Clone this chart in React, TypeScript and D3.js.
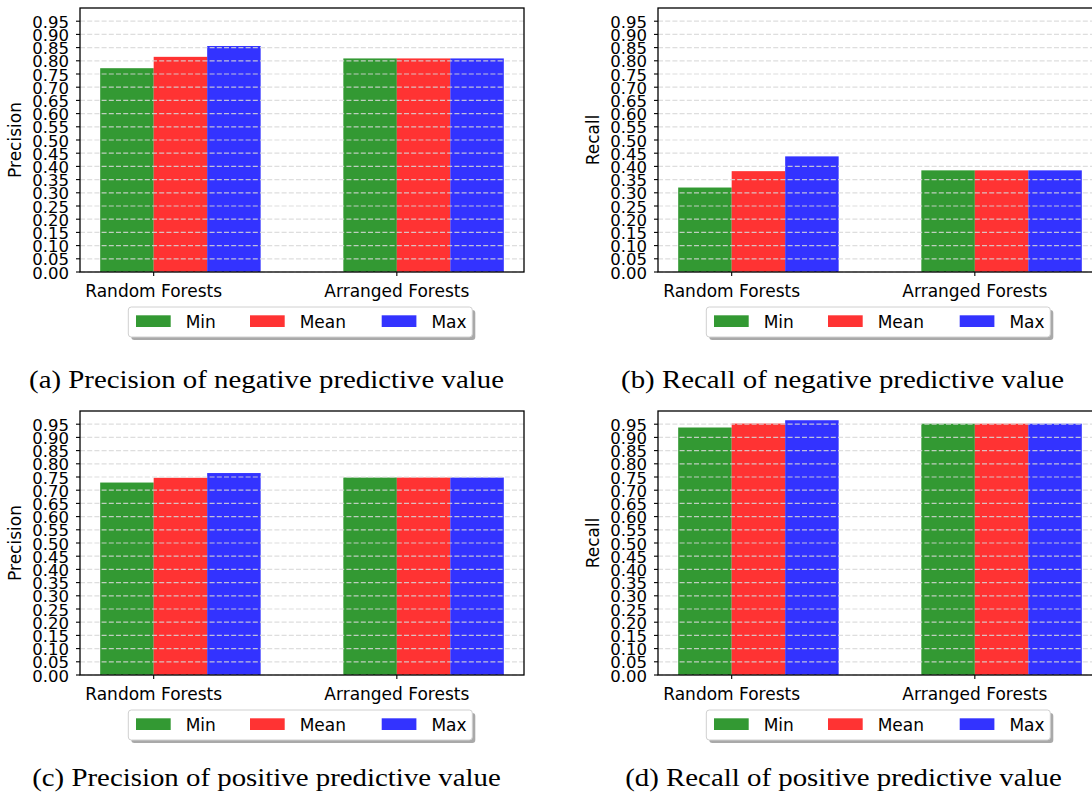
import { useRef, useEffect } from 'react';
import * as d3 from 'd3';

// Categories / series
const categories = ['Random Forests', 'Arranged Forests'];
const seriesNames = ['Min', 'Mean', 'Max'];
const seriesColors = ['#008000', '#ff0000', '#0000ff'];
const yTickValues = [0.0, 0.05, 0.1, 0.15, 0.2, 0.25, 0.3, 0.35, 0.4, 0.45, 0.5, 0.55, 0.6, 0.65, 0.7, 0.75, 0.8, 0.85, 0.9, 0.95];

// (a) precision of negative predictive value
const negPrecisionMin = [0.772, 0.809];
const negPrecisionMean = [0.815, 0.809];
const negPrecisionMax = [0.856, 0.809];

// (b) recall of negative predictive value
const negRecallMin = [0.32, 0.385];
const negRecallMean = [0.382, 0.385];
const negRecallMax = [0.438, 0.385];

// (c) precision of positive predictive value
const posPrecisionMin = [0.729, 0.748];
const posPrecisionMean = [0.747, 0.748];
const posPrecisionMax = [0.765, 0.748];

// (d) recall of positive predictive value
const posRecallMin = [0.9375, 0.952];
const posRecallMean = [0.9525, 0.952];
const posRecallMax = [0.965, 0.952];

const panels = [
    { series: [negPrecisionMin, negPrecisionMean, negPrecisionMax], yLabel: 'Precision', caption: '(a) Precision of negative predictive value', fx: 80, fy: 8, capX: 266.5, capY: 388 },
    { series: [negRecallMin, negRecallMean, negRecallMax], yLabel: 'Recall', caption: '(b) Recall of negative predictive value', fx: 658, fy: 8, capX: 842.5, capY: 388 },
    { series: [posPrecisionMin, posPrecisionMean, posPrecisionMax], yLabel: 'Precision', caption: '(c) Precision of positive predictive value', fx: 80, fy: 411, capX: 266.5, capY: 786 },
    { series: [posRecallMin, posRecallMean, posRecallMax], yLabel: 'Recall', caption: '(d) Recall of positive predictive value', fx: 658, fy: 411, capX: 843.5, capY: 786 },
];

const FRAME_W = 444;
const FRAME_H = 264;
const BAR_W = 0.22;
const SANS = '"DejaVu Sans", sans-serif';
const SERIF = '"Liberation Serif", "DejaVu Serif", serif';

export default function App() {
    const svgRef = useRef<SVGSVGElement>(null);

    useEffect(() => {
        if (!svgRef.current) return;
        const svg = d3.select(svgRef.current);
        svg.selectAll('*').remove();

        // matplotlib-like auto margins around the bars
        const lo = -BAR_W;
        const hi = categories.length - 1 + 2 * BAR_W;
        const pad = (hi - lo) * 0.05;
        const x = d3.scaleLinear().domain([lo - pad, hi + pad]).range([0, FRAME_W]);
        const y = d3.scaleLinear().domain([0, 1]).range([FRAME_H, 0]);

        panels.forEach(p => {
            const g = svg.append('g').attr('transform', `translate(${p.fx},${p.fy})`);

            // Bars
            p.series.forEach((vals, s) => {
                g.selectAll(`.bar-${s}`)
                    .data(vals)
                    .enter()
                    .append('rect')
                    .attr('x', (_, i) => x(i + (s - 1) * BAR_W))
                    .attr('width', x(BAR_W) - x(0))
                    .attr('y', d => y(d))
                    .attr('height', d => FRAME_H - y(d))
                    .attr('fill', seriesColors[s])
                    .attr('fill-opacity', 0.8);
            });

            // Grid lines (on top of bars)
            g.selectAll('.grid')
                .data(yTickValues)
                .enter()
                .append('line')
                .attr('x1', 0)
                .attr('x2', FRAME_W)
                .attr('y1', d => y(d))
                .attr('y2', d => y(d))
                .attr('stroke', '#d8d8d8')
                .attr('stroke-opacity', 0.85)
                .attr('stroke-width', 1.2)
                .attr('stroke-dasharray', '5,2.2');

            // Frame
            g.append('rect')
                .attr('width', FRAME_W)
                .attr('height', FRAME_H)
                .attr('fill', 'none')
                .attr('stroke', '#000')
                .attr('stroke-width', 1.3);

            // Y ticks
            g.selectAll('.ytick')
                .data(yTickValues)
                .enter()
                .append('line')
                .attr('x1', -4)
                .attr('x2', 0)
                .attr('y1', d => y(d))
                .attr('y2', d => y(d))
                .attr('stroke', '#000')
                .attr('stroke-width', 1.1);

            g.selectAll('.ylab')
                .data(yTickValues)
                .enter()
                .append('text')
                .attr('x', -11)
                .attr('y', d => y(d) + 6.6)
                .attr('text-anchor', 'end')
                .style('font-family', SANS)
                .style('font-size', '16.5px')
                .attr('fill', '#000')
                .text(d => d3.format('.2f')(d));

            // X ticks + labels
            g.selectAll('.xtick')
                .data(categories)
                .enter()
                .append('line')
                .attr('x1', (_, i) => x(i))
                .attr('x2', (_, i) => x(i))
                .attr('y1', FRAME_H)
                .attr('y2', FRAME_H + 4)
                .attr('stroke', '#000')
                .attr('stroke-width', 1.1);

            g.selectAll('.xlab')
                .data(categories)
                .enter()
                .append('text')
                .attr('x', (_, i) => x(i))
                .attr('y', FRAME_H + 25)
                .attr('text-anchor', 'middle')
                .style('font-family', SANS)
                .style('font-size', '17px')
                .attr('fill', '#000')
                .text(d => d);

            // Y axis label
            g.append('text')
                .attr('transform', `translate(${-80 + 21},${FRAME_H / 2}) rotate(-90)`)
                .attr('text-anchor', 'middle')
                .style('font-family', SANS)
                .style('font-size', '17px')
                .attr('fill', '#000')
                .text(p.yLabel);

            // Legend
            const lx = 48.3;
            const ly = FRAME_H + 35;
            const lw = 344;
            const lh = 30;
            const legend = g.append('g').attr('transform', `translate(${lx},${ly})`);
            legend.append('rect')
                .attr('x', 3).attr('y', 3)
                .attr('width', lw).attr('height', lh)
                .attr('rx', 3)
                .attr('fill', '#8c8c8c')
                .attr('opacity', 0.75);
            legend.append('rect')
                .attr('width', lw).attr('height', lh)
                .attr('rx', 3)
                .attr('fill', '#fff')
                .attr('stroke', '#d0d0d0')
                .attr('stroke-width', 1);

            const entryX = [7.7, 121.7, 253.4];
            seriesNames.forEach((name, s) => {
                const item = legend.append('g').attr('transform', `translate(${entryX[s]},0)`);
                item.append('rect')
                    .attr('y', 8.3)
                    .attr('width', 34.7)
                    .attr('height', 11.7)
                    .attr('fill', seriesColors[s])
                    .attr('fill-opacity', 0.8);
                item.append('text')
                    .attr('x', 49.7)
                    .attr('y', 20.6)
                    .style('font-family', SANS)
                    .style('font-size', '17px')
                    .attr('fill', '#000')
                    .text(name);
            });

            // Caption (Computer Modern is wider than Times; stretch a little)
            svg.append('text')
                .attr('transform', `translate(${p.capX},${p.capY}) scale(1.11,1)`)
                .attr('text-anchor', 'middle')
                .style('font-family', SERIF)
                .style('font-size', '26px')
                .attr('fill', '#000')
                .text(p.caption);
        });
    }, []);

    return (
        <svg
            ref={svgRef}
            width={1092}
            height={795}
            style={{ position: 'absolute', left: 0, top: 0, background: '#fff' }}
        />
    );
}
